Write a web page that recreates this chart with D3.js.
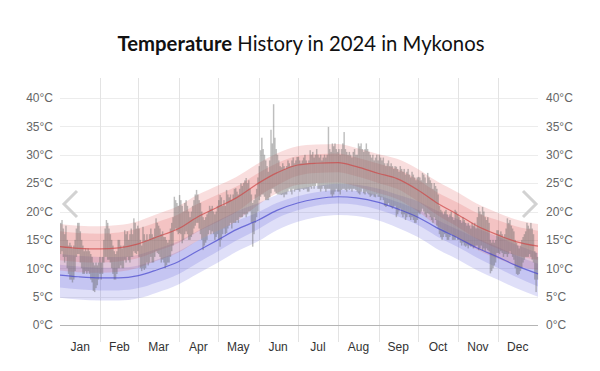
<!DOCTYPE html>
<html>
<head>
<meta charset="utf-8">
<script src="https://cdn.jsdelivr.net/npm/d3@7"></script>
<style>
  body { margin: 0; background: #fff; }
  svg { display: block; font-family: "Liberation Sans", Arial, sans-serif; }
</style>
</head>
<body>
<svg id="chart" width="600" height="371"></svg>
<script>
// months and y ticks
var months = ["Jan","Feb","Mar","Apr","May","Jun","Jul","Aug","Sep","Oct","Nov","Dec"];
var yTicks = [0,5,10,15,20,25,30,35,40];

// daily observed highs / lows for 2024 (366 days)
var dailyHigh = [
  18,18.5,17,16,17.5,15,14,14.5,14,13.5,14,15,17,18,18,16.5,15,14,13,13.5,13,13.5,13,12.5,12,11,10.5,11,10.5,11,12,
  11,12,15,17,18.5,18,17,16,15,14,13,12.5,13,15,15,14,13.5,14,16.7,16,16.5,15,16,17,16,18.8,18,17,17.5,
  17,15,14,17.3,16,15,16,15,16,17,16,15.5,17,18.8,18,17.5,17,16,16.5,15.5,15.5,15,14.5,15,17,18,19,22.6,22,21.5,21,
  22.9,22,21,20,21.5,22,21,20,19,20,21,22,23,23.8,23,22,21.5,20,19,18.5,19,19.5,20,21,20.5,21,20,19.5,20,21,
  22,22.9,22.5,21,22,21,23.8,23,22.5,23,22,23,24,24.1,23.5,23,24,25,24.5,25,25.5,25.9,25,25.5,24,23,21.5,22,23,24,26,
  28,30.8,33,31,30,29,28,27,29,34.4,32,38.9,33,31,30,29,28,27.8,28.5,28,27.5,28,29,28.5,28,29,29.5,28.5,29,29.6,
  29.6,29,28.5,29,29.5,30,29,28.5,29,30.8,30,30.5,29.5,30,31,30,29.5,30,29,29.5,30,29.5,30,34.9,31,30.5,32,31.5,32,31,30.5,
  31,30,31,32,34,31,30.5,30,30.5,30,29.5,30.5,31,30,30,32,31.5,32,31,30.5,31,32,31,30.5,30,29.5,30,29,29.5,30,29,
  30,29.5,29,29.5,28.5,28,28.5,29,28,28.5,28,27.5,28,27.9,27.5,27,28,27.5,27,27.5,26.5,27,27.5,26.5,26,27,26.5,26,25.5,26,
  26.1,26,25.5,26.8,26.5,26,25,26.8,26,25.5,25,24,25,24.5,24,23,21,20.3,20,19.5,20,20.3,19.5,19,19.5,20,19,18.5,20.3,20,19.5,
  19,18.5,18,19,18.5,18,17.5,18,17.5,17,18,17.5,18,17,19,20.8,20,19.5,20.8,20,19,18.5,19,18,15,14.5,15,14.5,15,16.7,
  16.7,16,16.5,16,15.5,16,17,18.8,18,18.5,17.5,17,16.5,15,14.5,14,13.5,14,15,15.5,16,16.5,18,17.5,17,18,17,16,13,12.7,12
];
var dailyLow = [
  12.5,13,12,11,12,10,9,8,8,7.5,8,9.5,12,12.5,12.5,11,10,9,9,9.5,9,9.5,9,8,7.5,6,5.8,6.5,7,8,9,
  8,9,11,12,12,11.5,11.5,11,10,9,8,8,9,10,10,10.5,10,10,11.5,11,12,11.4,11,12,12,13,12.7,12.5,13,
  12,10,9.5,10,9.7,10,11,10.5,11,12,11,11,12,13,12.7,12.5,12,11,11.5,11,10,10.5,11,11,12,13,14,16.7,17,16.5,16,
  16.2,16,14.4,15,16,16.5,16,15,15,15.5,16,17,17.5,18,18,17,16,15,13.2,14,14.5,15,16,16.7,16,16.5,16,15,15.5,16,
  15,13.8,15,16,17,16,16.2,17,17.5,18,17,18,18,18,18.5,18,19,19,19,19.5,19.5,19,19.5,20,20,18,13.8,16,18,19,20,
  22,22.6,23,23,22.6,22,22,22,22.5,23.2,24,24,23.5,23.2,23,23,23,22.9,23,22.5,23,23,23.5,24,23.5,23,24,23.5,23.8,23.8,
  23.8,23.5,24,24,23.8,24,24,23.5,23.5,24.3,24,24.5,24,24.5,25,24,24,23.5,24,24.5,24,23.5,24,24,24,23,22.6,23,23.5,24,23.5,
  23.5,23,23.8,24,24,23.8,23.5,24,23.8,24,23.5,24,24,23.8,23.5,23.2,23,23.5,24,23.2,23,23.5,23.2,23,22.6,22.8,23,22.6,22.5,23,22.6,
  22.6,22,22.5,22,21,20.8,21,21.5,21,20.8,20.5,20.8,21,19,19.5,20,20.5,19.5,19,19.5,18.5,19,19.5,19,18.5,19,18.5,18,18,18.5,
  19.7,19.5,20,20.5,20,19.5,19,19.7,19.5,19,18.5,18,19,18.5,17.5,17,16,15.5,15,15.5,16,15.5,15,15,15.5,16,15,15,15,15.5,15,
  15,14.5,14,14.5,14,13.8,14,13.5,14,13.8,14,13.5,13.8,14,14,13.2,13.5,14,13.2,13.5,13,13.5,13.2,13,9.1,9.5,10,10.5,11,12.7,
  12.7,12.5,13,12.7,12,12.5,12.5,12,12.5,13,12.5,12,11.5,10,9,8.8,9,9.5,10,11,11.5,12,12,12,12.5,12,11.5,11,8,5.8,8
];

// climate normals, sampled twice a month (day of year)
var normDays = [0,14,31,45,60,74,91,105,121,135,152,166,182,196,213,227,244,258,274,288,305,319,335,349,366];
var avgHigh  = [13.8,13.5,13.4,13.6,14.3,15.5,17.0,19.0,20.8,22.4,25.0,26.8,28.2,28.5,28.6,27.9,26.7,25.8,23.8,21.6,19.4,17.5,15.9,14.7,13.9];
var highP90  = [17.8,17.5,17.4,17.6,18.3,19.5,21.0,22.9,24.6,26.1,28.5,30.2,31.5,31.8,31.9,31.2,30.1,29.3,27.5,25.4,23.3,21.4,19.8,18.6,17.8];
var highP75  = [16.5,16.2,16.1,16.3,17.0,18.1,19.5,21.3,23.0,24.4,26.8,28.5,29.8,30.1,30.2,29.5,28.4,27.5,25.6,23.5,21.5,19.8,18.5,17.4,16.6];
var highP25  = [11.4,11.1,11.0,11.2,11.8,13.0,14.5,16.4,18.2,19.9,22.7,24.6,26.3,26.8,26.9,26.2,25.0,24.0,21.8,19.5,17.2,15.2,13.5,12.3,11.5];
var highP10  = [9.6,9.3,9.2,9.4,10.1,11.3,12.8,14.8,16.6,18.3,21.2,23.2,24.7,25.0,25.1,24.4,23.2,22.2,20.0,17.6,15.3,13.3,11.7,10.5,9.7];
var avgLow   = [8.8,8.5,8.3,8.3,8.7,9.7,11.2,13.0,15.0,16.8,18.5,20.2,21.5,22.2,22.6,22.4,21.6,20.5,19.0,17.2,15.3,13.6,12.0,10.5,9.0];
var lowP90   = [12.5,12.2,12.0,12.0,12.4,13.4,14.8,16.5,18.4,20.0,21.5,22.9,24.0,24.5,24.9,24.7,24.0,23.0,21.8,20.2,18.6,17.1,15.6,14.2,12.7];
var lowP75   = [10.6,10.3,10.1,10.1,10.5,11.5,13.0,14.8,16.6,18.3,19.9,21.5,22.7,23.4,23.8,23.6,22.8,21.7,20.3,18.6,16.8,15.3,13.8,12.3,10.8];
var lowP25   = [6.6,6.3,6.1,6.1,6.5,7.5,9.0,10.9,13.0,14.9,16.9,18.8,20.2,21.0,21.4,21.2,20.3,19.2,17.6,15.7,13.7,11.9,10.1,8.5,6.8];
var lowP10   = [4.8,4.5,4.3,4.3,4.7,5.7,7.2,9.0,11.0,12.9,14.8,16.7,18.2,19.0,19.4,19.2,18.4,17.2,15.5,13.5,11.5,9.7,8.0,6.5,5.0];

var svg = d3.select("#chart");
var plotLeft = 60, plotRight = 538, plotTop = 98, plotBottom = 325;

function day(i){ return new Date(Date.UTC(2024, 0, 1 + i)); }

var x = d3.scaleUtc().domain([day(0), day(366)]).range([plotLeft, plotRight]);
var y = d3.scaleLinear().domain([0, 40]).range([plotBottom, plotTop]);

// title
var title = svg.append("text")
  .attr("x", 301).attr("y", 51)
  .attr("text-anchor", "middle")
  .attr("font-family", "Lato, 'Noto Sans', sans-serif")
  .attr("font-size", 20.3)
  .attr("fill", "#111");
title.append("tspan").attr("font-weight", "bold").text("Temperature");
title.append("tspan").text(" History in 2024 in Mykonos");

// horizontal grid
svg.append("g").selectAll("line")
  .data(yTicks.filter(function(d){ return d > 0; }))
  .enter().append("line")
    .attr("x1", plotLeft).attr("x2", plotRight)
    .attr("y1", function(d){ return Math.round(y(d)) + 0.5; })
    .attr("y2", function(d){ return Math.round(y(d)) + 0.5; })
    .attr("stroke", "#ececec").attr("stroke-width", 1);

// vertical month grid
var monthStarts = d3.utcMonths(day(0), day(366));
svg.append("g").selectAll("line")
  .data(monthStarts.slice(1))
  .enter().append("line")
    .attr("x1", function(d){ return Math.round(x(d)) + 0.5; })
    .attr("x2", function(d){ return Math.round(x(d)) + 0.5; })
    .attr("y1", 78).attr("y2", 342)
    .attr("stroke", "#e3e3e3").attr("stroke-width", 1);

// bands
function band(hi, lo, color, op){
  var area = d3.area()
    .x(function(d, i){ return x(day(normDays[i])); })
    .y0(function(d, i){ return y(lo[i]); })
    .y1(function(d, i){ return y(hi[i]); })
    .curve(d3.curveMonotoneX);
  svg.append("path").datum(hi)
    .attr("d", area)
    .attr("fill", color).attr("fill-opacity", op);
}
band(lowP90, lowP10, "rgb(95,95,220)", 0.2);
band(lowP75, lowP25, "rgb(95,95,220)", 0.2);
band(highP90, highP10, "rgb(225,90,90)", 0.2);
band(highP75, highP25, "rgb(225,90,90)", 0.2);

// daily bars
svg.append("g").selectAll("rect")
  .data(dailyHigh)
  .enter().append("rect")
    .attr("x", function(d, i){ return x(day(i)); })
    .attr("width", function(d, i){ return x(day(i + 1)) - x(day(i)) + 0.15; })
    .attr("y", function(d){ return y(d); })
    .attr("height", function(d, i){ return y(dailyLow[i]) - y(d); })
    .attr("fill", "rgb(100,100,100)")
    .attr("fill-opacity", 0.42);

// average lines
function avgLine(vals, color){
  var line = d3.line()
    .x(function(d, i){ return x(day(normDays[i])); })
    .y(function(d){ return y(d); })
    .curve(d3.curveMonotoneX);
  svg.append("path").datum(vals)
    .attr("d", line)
    .attr("fill", "none")
    .attr("stroke", color).attr("stroke-width", 1.2);
}
avgLine(avgHigh, "rgba(205,70,70,0.7)");
avgLine(avgLow, "rgba(70,70,205,0.7)");

// zero line
svg.append("line")
  .attr("x1", plotLeft).attr("x2", plotRight)
  .attr("y1", Math.round(y(0)) + 0.5).attr("y2", Math.round(y(0)) + 0.5)
  .attr("stroke", "#b5b5b5").attr("stroke-width", 1);

// y axis labels both sides
var fmt = function(d){ return d + "°C"; };
var yl = svg.append("g").attr("transform", "translate(" + (plotLeft - 4) + ",0)")
  .call(d3.axisLeft(y).tickValues(yTicks).tickFormat(fmt).tickSize(0));
var yr = svg.append("g").attr("transform", "translate(" + (plotRight + 5) + ",0)")
  .call(d3.axisRight(y).tickValues(yTicks).tickFormat(fmt).tickSize(0));
[yl, yr].forEach(function(g){
  g.select(".domain").remove();
  g.selectAll("text").attr("font-family", "'Liberation Sans', Arial, sans-serif")
    .attr("font-size", 12).attr("fill", "#666");
});

// month labels
svg.append("g").selectAll("text")
  .data(monthStarts)
  .enter().append("text")
    .attr("x", function(d, i){
      var end = i < 11 ? monthStarts[i + 1] : day(366);
      return (x(d) + x(end)) / 2;
    })
    .attr("y", 351)
    .attr("text-anchor", "middle")
    .attr("font-size", 12)
    .attr("fill", "#333")
    .text(function(d, i){ return months[i]; });

// navigation chevrons
svg.append("path").attr("d", "M77,191 L64,204 L77,217")
  .attr("fill", "none").attr("stroke", "#d2d2d2").attr("stroke-width", 3);
svg.append("path").attr("d", "M523,191 L536,204 L523,217")
  .attr("fill", "none").attr("stroke", "#d2d2d2").attr("stroke-width", 3);
</script>
</body>
</html>
